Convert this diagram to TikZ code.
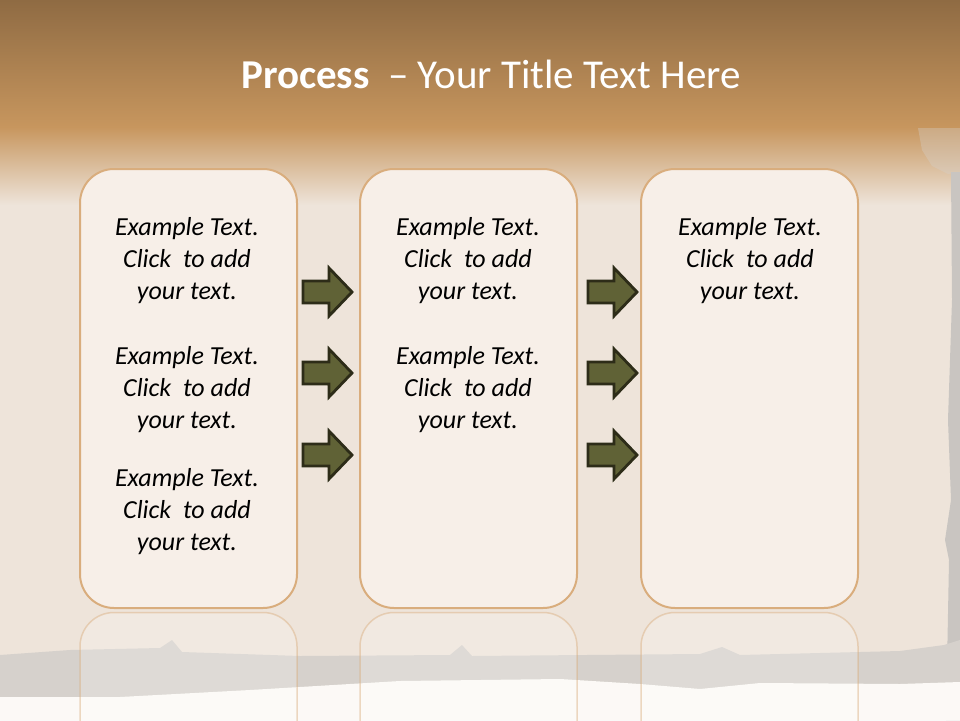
\documentclass[tikz,border=0pt]{standalone}
\usepackage{fontspec}
\setmainfont{Carlito}
\usetikzlibrary{calc}
\definecolor{bandtop}{RGB}{143,107,67}
\definecolor{bandlow}{RGB}{199,150,94}
\definecolor{paper}{RGB}{238,228,218}
\definecolor{tear}{RGB}{214,209,204}
\definecolor{sheet}{RGB}{252,249,246}
\definecolor{panelc}{RGB}{247,239,232}
\definecolor{rimc}{RGB}{217,173,125}
\definecolor{arrowc}{RGB}{96,98,54}
\definecolor{arrowrim}{RGB}{45,44,24}
\tikzset{
  panel/.style={draw=rimc, line width=2pt, fill=panelc, rounded corners=34pt,
    minimum width=217pt, minimum height=439pt},
  mirror/.style={draw=rimc, draw opacity=0.45, line width=1.5pt, fill=white,
    fill opacity=0.2, rounded corners=34pt, minimum width=217pt, minimum height=439pt},
  body/.style={font=\fontsize{26}{32}\selectfont\itshape, align=center},
  ttl/.style={font=\fontsize{41}{50}\selectfont, text=white, anchor=base},
}
\newcommand{\flowarrow}[1]{%
  \filldraw[fill=arrowc, draw=arrowrim, line width=2.8pt, line join=miter]
    ($(#1)+(0,-11)$) -- ++(26,0) -- ++(0,-13) -- ++(23,24)
    -- ++(-23,24) -- ++(0,-13) -- ++(-26,0) -- cycle;
}

\begin{document}
\begin{tikzpicture}[x=1pt, y=-1pt]
\useasboundingbox (0,0) rectangle (960,720);

% ------------------------------------------------- background
\fill[paper] (0,0) rectangle (960,720);
\shade[top color=bandtop, bottom color=bandlow] (0,0) rectangle (960,127);
\shade[top color=bandlow, bottom color=paper] (0,127) rectangle (960,205);
\fill[tear, opacity=0.35] (918,128) -- (960,128) -- (960,172) -- (948,174)
  -- (932,166) -- (922,150) -- cycle;
\fill[tear!85!gray] (951,172) -- (960,172) -- (960,720) -- (946,720)
  -- (949,560) -- (945,540) -- (951,500) -- (948,420) -- (952,300) -- cycle;
\fill[tear] (0,655) -- (70,650) -- (160,648) -- (172,640) -- (182,652)
  -- (300,656) -- (450,655) -- (462,645) -- (472,656) -- (700,654)
  -- (722,647) -- (740,655) -- (900,651) -- (944,645) -- (960,640)
  -- (960,720) -- (0,720) -- cycle;
\fill[sheet] (0,697) -- (120,697) -- (250,690) -- (400,681) -- (560,679)
  -- (640,684) -- (700,689) -- (760,683) -- (900,684) -- (960,682)
  -- (960,720) -- (0,720) -- cycle;

% ------------------------------------------------- title
\node[ttl] (title) at (491,88) {\textbf{Process}~ – Your Title Text Here};

% ------------------------------------------------- panels + mirror images
\foreach \i/\x in {1/188.5,2/468.5,3/749.5} {
  \node[mirror] (m\i) at (\x,832) {};
  \node[panel] (p\i) at (\x,388.5) {};
}

% ------------------------------------------------- arrows between panels
\foreach \c/\x in {1/303,2/588} {
  \foreach \r/\y in {1/292,2/373,3/455} {
    \coordinate (a\c\r) at (\x,\y);
    \flowarrow{a\c\r}
  }
}

% ------------------------------------------------- texts
\node[body] (t1a) at (187,261) {Example Text.\\Click~ to add\\your text.};
\node[body] (t1b) at (187,390) {Example Text.\\Click~ to add\\your text.};
\node[body] (t1c) at (187,512) {Example Text.\\Click~ to add\\your text.};
\node[body] (t2a) at (468,261) {Example Text.\\Click~ to add\\your text.};
\node[body] (t2b) at (468,390) {Example Text.\\Click~ to add\\your text.};
\node[body] (t3a) at (750,261) {Example Text.\\Click~ to add\\your text.};

\end{tikzpicture}
\end{document}
